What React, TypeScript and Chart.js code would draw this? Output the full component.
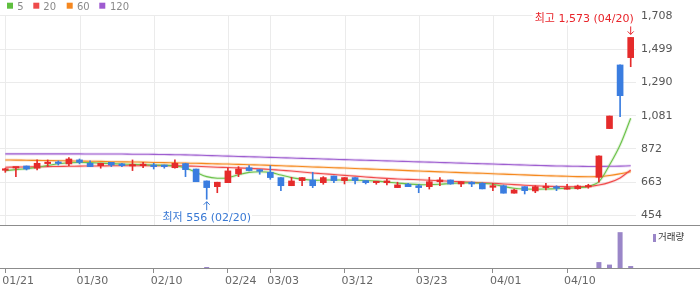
import React, { useEffect, useRef } from 'react';
import { Chart, registerables } from 'chart.js';

Chart.register(...registerables);

const dates = [
  '01/21', '01/22', '01/23', '01/26', '01/27', '01/28', '01/29', '01/30', '02/02', '02/03',
  '02/04', '02/05', '02/06', '02/09', '02/10', '02/11', '02/12', '02/13', '02/19', '02/20',
  '02/23', '02/24', '02/25', '02/26', '02/27', '03/03', '03/04', '03/05', '03/06', '03/09',
  '03/10', '03/11', '03/12', '03/13', '03/16', '03/17', '03/18', '03/19', '03/20', '03/23',
  '03/24', '03/25', '03/26', '03/27', '03/30', '03/31', '04/01', '04/02', '04/03', '04/06',
  '04/07', '04/08', '04/09', '04/10', '04/13', '04/14', '04/15', '04/16', '04/17', '04/20',
];

const opens = [
  738, 752, 765, 751, 780, 784, 778, 803, 782, 767,
  788, 778, 765, 767, 771, 771, 754, 780, 746, 671,
  635, 660, 715, 754, 742, 725, 692, 641, 673, 677,
  660, 702, 673, 692, 673, 660, 660, 629, 650, 641,
  635, 666, 677, 652, 663, 656, 631, 641, 594, 635,
  608, 629, 631, 619, 622, 633, 694, 1000, 1400, 1446,
];
const highs = [
  751, 757, 765, 803, 803, 797, 817, 809, 797, 782,
  788, 782, 803, 788, 782, 771, 803, 782, 746, 671,
  663, 751, 761, 767, 742, 767, 692, 694, 692, 725,
  698, 702, 692, 692, 673, 666, 681, 663, 656, 650,
  694, 692, 677, 666, 666, 660, 656, 645, 620, 635,
  641, 656, 641, 650, 645, 650, 828, 1079, 1400, 1573,
];
const lows = [
  725, 698, 740, 740, 761, 771, 767, 778, 761, 751,
  761, 761, 736, 754, 746, 751, 751, 698, 666, 556,
  597, 660, 698, 734, 713, 681, 610, 641, 641, 629,
  650, 660, 652, 652, 652, 650, 646, 629, 635, 597,
  620, 641, 650, 635, 635, 621, 610, 594, 594, 589,
  597, 614, 610, 619, 619, 625, 663, 1000, 1075, 1389,
];
const closes = [
  741, 755, 746, 782, 783, 781, 809, 788, 761, 782,
  771, 767, 771, 769, 761, 761, 782, 742, 666, 629,
  663, 734, 746, 736, 732, 692, 641, 671, 692, 641,
  692, 673, 692, 673, 660, 666, 671, 646, 635, 629,
  666, 677, 652, 666, 652, 621, 641, 594, 614, 610,
  635, 635, 625, 625, 639, 639, 828, 1079, 1207, 1573,
];
const volumes = [
  0.01, 0.01, 0.01, 0.01, 0.01, 0.01, 0.01, 0.01, 0.01, 0.01,
  0.01, 0.01, 0.01, 0.01, 0.01, 0.01, 0.01, 0.01, 0.02, 2.8,
  0.01, 0.01, 0.01, 0.01, 0.01, 0.01, 0.01, 0.01, 0.01, 0.01,
  0.01, 0.01, 0.01, 0.01, 0.01, 0.01, 0.01, 0.01, 0.01, 0.01,
  0.01, 0.01, 0.01, 0.01, 0.01, 0.01, 0.01, 0.01, 0.01, 0.01,
  0.01, 0.01, 0.01, 0.01, 0.01, 0.02, 16.5, 9.5, 100, 5.5,
];
const ma5 = [
  736, 742, 748, 756, 768, 779, 785, 787, 786, 783,
  780, 777, 775, 773, 771, 769, 766, 752, 725, 698,
  688, 691, 710, 725, 729, 725, 708, 692, 682, 675,
  676, 677, 676, 676, 674, 670, 664, 657, 652, 648,
  647, 650, 655, 658, 660, 656, 650, 636, 625, 620,
  619, 620, 622, 625, 628, 636, 666, 771, 897, 1065,
];
const ma20 = [
  757, 758, 759, 760, 761, 762, 763, 764, 765, 765,
  766, 766, 766, 766, 766, 766, 766, 765, 763, 760,
  757, 755, 753, 750, 747, 743, 738, 733, 727, 721,
  716, 711, 706, 701, 696, 691, 687, 683, 681, 678,
  675, 672, 669, 666, 662, 659, 656, 652, 648, 644,
  641, 638, 636, 635, 635, 636, 645, 662, 690, 740,
];
const ma60 = [
  803, 802, 801, 800, 799, 798, 797, 796, 795, 794,
  792, 791, 790, 789, 787, 786, 785, 783, 782, 780,
  778, 777, 775, 773, 771, 769, 766, 764, 762, 759,
  757, 754, 752, 749, 747, 744, 742, 739, 736, 733,
  731, 728, 726, 723, 721, 719, 716, 714, 711, 709,
  706, 704, 702, 700, 698, 697, 698, 705, 716, 729,
];
const ma120 = [
  841, 841, 841, 841, 841, 841, 841, 841, 840, 840,
  840, 840, 839, 839, 838, 837, 836, 835, 833, 831,
  829, 827, 825, 823, 821, 819, 817, 815, 813, 811,
  809, 807, 805, 803, 801, 799, 797, 795, 793, 791,
  789, 787, 785, 783, 781, 779, 777, 775, 773, 771,
  769, 767, 765, 764, 763, 762, 762, 763, 764, 766,
];

const tickDates = ['01/21', '01/30', '02/10', '02/24', '03/03', '03/12', '03/23', '04/01', '04/10'];
const priceTicks = [454, 663, 872, 1081, 1290, 1499, 1708];
const maNames = ['5', '20', '60', '120'];

const UP = '#e52b2b';
const DOWN = '#3a7de0';
const MA_COLORS = ['#6cc24a', '#f04b4b', '#f5891f', '#9e5fd0'];
const LEGEND_COLORS = ['#5fbf3f', '#ee4a4a', '#f5871f', '#9e5bd0'];
const FONT = '"DejaVu Sans", "Noto Sans CJK KR", sans-serif';

function hexA(hex: string, a: number) {
  const n = parseInt(hex.slice(1), 16);
  return `rgba(${(n >> 16) & 255},${(n >> 8) & 255},${n & 255},${a})`;
}

const fmt = (v: number) => v.toLocaleString('en-US');

const overlayPlugin = {
  id: 'overlay',
  beforeDatasetsDraw(chart: any) {
    const ctx = chart.ctx;
    const xs = chart.scales.x;
    const ys = chart.scales.y;
    ctx.save();
    ctx.strokeStyle = '#ebebeb';
    ctx.lineWidth = 1;
    tickDates.forEach((d) => {
      const i = dates.indexOf(d);
      const px = Math.round(xs.getPixelForValue(i)) + 0.5;
      ctx.beginPath();
      ctx.moveTo(px, ys.top);
      ctx.lineTo(px, ys.bottom);
      ctx.stroke();
    });
    ctx.restore();
  },
  afterDraw(chart: any) {
    const ctx = chart.ctx;
    const xs = chart.scales.x;
    const ys = chart.scales.y;
    const W = chart.width;
    ctx.save();
    ctx.strokeStyle = '#8c8c8c';
    ctx.lineWidth = 1;
    [Math.round(ys.bottom), Math.round(chart.chartArea.bottom)].forEach((yy) => {
      ctx.beginPath();
      ctx.moveTo(0, yy + 0.5);
      ctx.lineTo(W, yy + 0.5);
      ctx.stroke();
    });

    const hiVal = Math.max(...highs);
    const hiIdx = highs.indexOf(hiVal);
    const hx = xs.getPixelForValue(hiIdx);
    const hy = ys.getPixelForValue(hiVal);
    ctx.font = `11px ${FONT}`;
    ctx.textBaseline = 'middle';
    const hiText = `최고 ${fmt(hiVal)} (${dates[hiIdx]})`;
    const hw = ctx.measureText(hiText).width;
    ctx.fillStyle = '#ffffff';
    ctx.fillRect(hx + 3 - hw - 2, hy - 25, hw + 8, 13);
    ctx.fillStyle = '#e8242a';
    ctx.textAlign = 'right';
    ctx.fillText(hiText, hx + 3, hy - 18.5);
    ctx.strokeStyle = '#e8242a';
    ctx.lineWidth = 1;
    ctx.beginPath();
    ctx.moveTo(hx, hy - 11);
    ctx.lineTo(hx, hy - 3);
    ctx.moveTo(hx - 3, hy - 6);
    ctx.lineTo(hx, hy - 3);
    ctx.lineTo(hx + 3, hy - 6);
    ctx.stroke();

    const loVal = Math.min(...lows);
    const loIdx = lows.indexOf(loVal);
    const lx = xs.getPixelForValue(loIdx);
    const ly = ys.getPixelForValue(loVal);
    const loText = `최저 ${fmt(loVal)} (${dates[loIdx]})`;
    const lw = ctx.measureText(loText).width;
    ctx.fillStyle = '#ffffff';
    ctx.fillRect(lx - lw / 2 - 1, ly + 13, lw + 2, 12);
    ctx.fillStyle = '#3878d4';
    ctx.textAlign = 'center';
    ctx.fillText(loText, lx, ly + 19);
    ctx.strokeStyle = '#3878d4';
    ctx.beginPath();
    ctx.moveTo(lx, ly + 11);
    ctx.lineTo(lx, ly + 2.5);
    ctx.moveTo(lx - 3, ly + 5.5);
    ctx.lineTo(lx, ly + 2.5);
    ctx.lineTo(lx + 3, ly + 5.5);
    ctx.stroke();

    const sq = [7, 33.3, 66.7, 99.3];
    const tx = [17.3, 43.3, 77, 110];
    ctx.font = `10px ${FONT}`;
    ctx.textAlign = 'left';
    ctx.textBaseline = 'alphabetic';
    maNames.forEach((n, k) => {
      ctx.fillStyle = LEGEND_COLORS[k];
      ctx.fillRect(sq[k], 2.7, 6, 6);
      ctx.fillStyle = '#8a8a8a';
      ctx.fillText(n, tx[k], 9.6);
    });

    const yv = chart.scales.yv;
    ctx.fillStyle = '#9a86c8';
    ctx.fillRect(653, yv.top + 9, 3, 8);
    ctx.fillStyle = '#333333';
    ctx.font = `9.5px ${FONT}`;
    ctx.textBaseline = 'middle';
    ctx.fillText('거래량', 658, yv.top + 13);
    ctx.restore();
  },
};

export default function App() {
  const ref = useRef<HTMLCanvasElement | null>(null);
  useEffect(() => {
    if (!ref.current) return;
    Chart.defaults.font.family = FONT;
    Chart.defaults.font.size = 11;
    const candleColors = closes.map((c, i) => (c >= opens[i] ? UP : DOWN));
    const maSeries = [ma5, ma20, ma60, ma120];
    const lineSets: any[] = [];
    maSeries.forEach((s, k) => {
      lineSets.push({
        type: 'line',
        label: 'glow' + maNames[k],
        data: s,
        borderColor: hexA(MA_COLORS[k], 0.2),
        borderWidth: 3,
        pointRadius: 0,
        tension: 0.35,
        yAxisID: 'y',
        order: 20 + k,
      });
      lineSets.push({
        type: 'line',
        label: maNames[k],
        data: s,
        borderColor: MA_COLORS[k],
        borderWidth: 1.1,
        pointRadius: 0,
        tension: 0.35,
        yAxisID: 'y',
        order: 10 + k,
      });
    });
    const chart = new Chart(ref.current, {
      type: 'bar',
      data: {
        labels: dates,
        datasets: [
          {
            type: 'bar',
            label: 'body',
            data: opens.map((o, i) => [o, closes[i]]),
            backgroundColor: candleColors,
            barThickness: 6,
            minBarLength: 1.5,
            grouped: false,
            borderWidth: 0,
            yAxisID: 'y',
            order: 0,
          },
          {
            type: 'bar',
            label: 'wick',
            data: lows.map((l, i) => [l, highs[i]]),
            backgroundColor: candleColors,
            barThickness: 1,
            grouped: false,
            borderWidth: 0,
            yAxisID: 'y',
            order: 1,
          },
          ...lineSets,
          {
            type: 'bar',
            label: '거래량',
            data: volumes,
            backgroundColor: '#9a86c8',
            barThickness: 5,
            grouped: false,
            borderWidth: 0,
            inflateAmount: 0,
            yAxisID: 'yv',
            order: 2,
          },
        ] as any,
      },
      options: {
        responsive: false,
        animation: false,
        devicePixelRatio: 1,
        layout: { padding: { top: 15, left: 0, right: 0, bottom: 0 } },
        plugins: { legend: { display: false }, tooltip: { enabled: false } },
        scales: {
          x: {
            type: 'category',
            offset: true,
            afterBuildTicks: (s: any) => {
              s.ticks = tickDates.map((d) => ({ value: dates.indexOf(d) }));
            },
            afterFit: (s: any) => {
              s.height = 21;
            },
            grid: {
              offset: false,
              drawOnChartArea: false,
              drawTicks: true,
              tickLength: 5,
              tickColor: '#8c8c8c',
            },
            border: { display: false },
            ticks: {
              autoSkip: false,
              maxRotation: 0,
              minRotation: 0,
              align: 'start',
              labelOffset: -3,
              padding: 2,
              color: '#666666',
              font: { size: 11 },
            },
          },
          y: {
            type: 'linear',
            position: 'right',
            stack: 'p',
            stackWeight: 210,
            min: 394,
            max: 1714,
            afterBuildTicks: (s: any) => {
              s.ticks = priceTicks.map((v) => ({ value: v }));
            },
            afterFit: (s: any) => {
              s.width = 64;
            },
            grid: { color: '#ebebeb', drawTicks: false },
            border: { display: false },
            ticks: {
              padding: 5,
              color: '#555555',
              font: { size: 11 },
              callback: (v: any) => fmt(Number(v)),
            },
          },
          yv: {
            type: 'linear',
            position: 'right',
            stack: 'p',
            stackWeight: 43,
            min: 0,
            max: 120,
            afterFit: (s: any) => {
              s.width = 64;
            },
            grid: { display: false, drawTicks: false },
            border: { display: false },
            ticks: { display: false },
          },
        },
      } as any,
      plugins: [overlayPlugin],
    });
    return () => chart.destroy();
  }, []);
  return (
    <div style={{ position: 'fixed', left: 0, top: 0, width: 700, height: 289, background: '#fff' }}>
      <canvas ref={ref} width={700} height={289} style={{ display: 'block' }} />
    </div>
  );
}
